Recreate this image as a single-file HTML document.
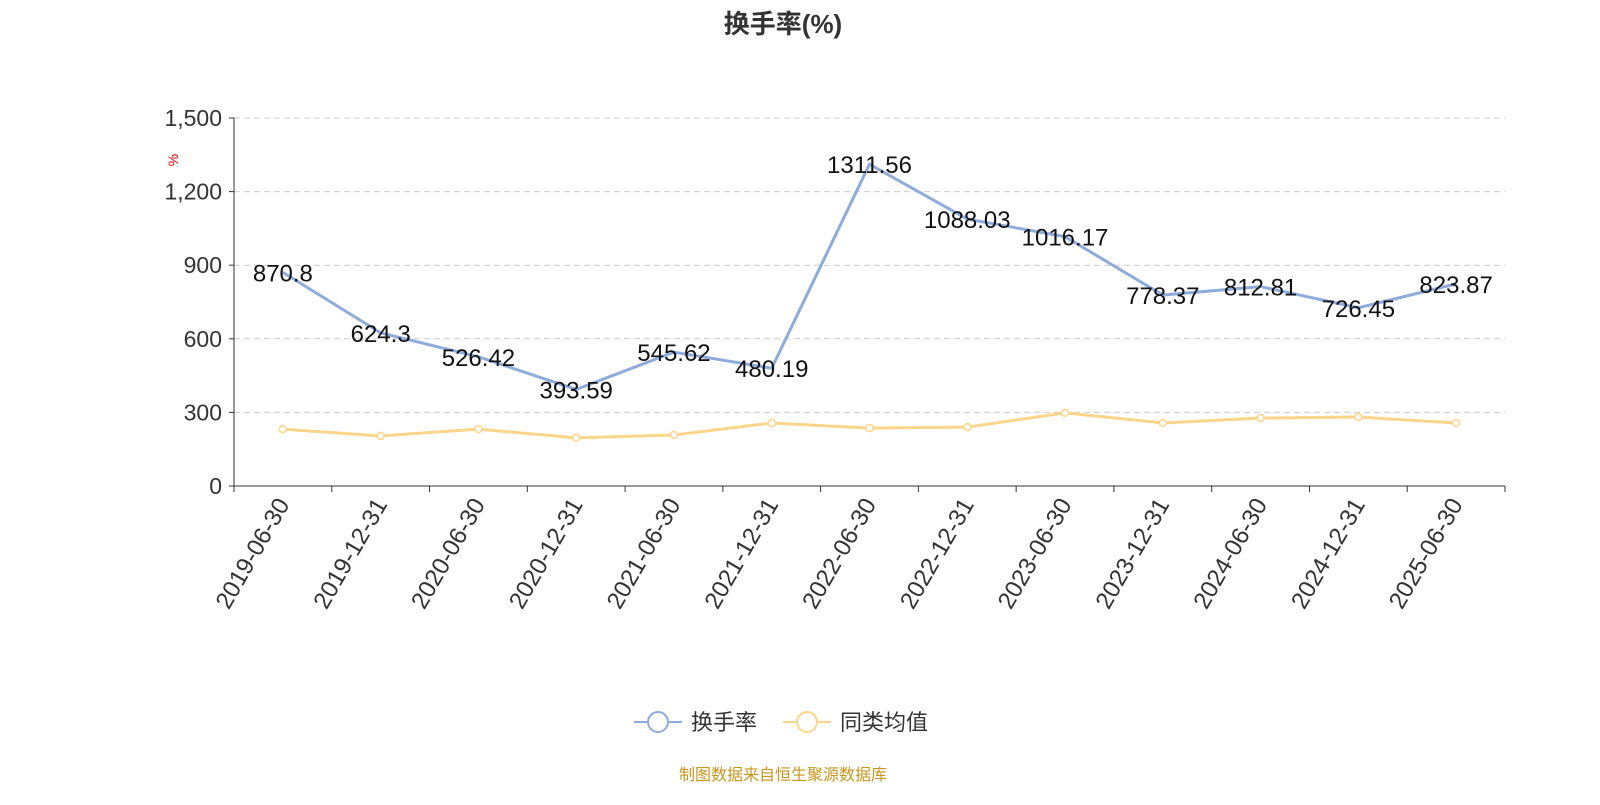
<!DOCTYPE html>
<html><head><meta charset="utf-8"><style>
body{margin:0;background:#fff;}
svg text{font-family:"Liberation Sans","Noto Sans CJK SC",sans-serif;}
</style></head><body>
<svg id="chart" width="1600" height="800">
<text x="783" y="33" text-anchor="middle" font-size="26" font-weight="bold" fill="#333">换手率(%)</text>
<text x="178" y="160" font-size="14" fill="#e00" transform="rotate(-90 178 160)" text-anchor="middle">%</text>
<g id="grid"></g><g id="axes"></g><g id="series"></g>
<g>
<g><line x1="634" y1="722" x2="682" y2="722" stroke="#8eacdb" stroke-width="2"/><circle cx="658" cy="722" r="10" fill="#fff" stroke="#8eacdb" stroke-width="2"/><text x="691" y="730" font-size="22" fill="#333">换手率</text></g>
<g><line x1="783" y1="722" x2="831" y2="722" stroke="#fdd58a" stroke-width="2"/><circle cx="807" cy="722" r="10" fill="#fff" stroke="#fdd58a" stroke-width="2"/><text x="840" y="730" font-size="22" fill="#333">同类均值</text></g>
</g>
<text x="783" y="780" text-anchor="middle" font-size="16" fill="#c8961e">制图数据来自恒生聚源数据库</text>
</svg>
<script>
const categories=["2019-06-30","2019-12-31","2020-06-30","2020-12-31","2021-06-30","2021-12-31","2022-06-30","2022-12-31","2023-06-30","2023-12-31","2024-06-30","2024-12-31","2025-06-30"];
const turnover=[870.8,624.3,526.42,393.59,545.62,480.19,1311.56,1088.03,1016.17,778.37,812.81,726.45,823.87];
const peerAvg=[232,204,232,196,208,257,236,240,298,257,277,281,257];
const yTicks=[0,300,600,900,1200,1500];
const yTickLabels=["0","300","600","900","1,200","1,500"];
const NS="http://www.w3.org/2000/svg";
const X0=234,X1=1505,Y0=486,Y1=118;
const band=(X1-X0)/categories.length;
const xs=i=>X0+band*(i+0.5);
const ys=v=>Y0-(v/1500)*(Y0-Y1);
function mk(tag,attrs,parent){const e=document.createElementNS(NS,tag);for(const k in attrs)e.setAttribute(k,attrs[k]);parent.appendChild(e);return e;}
const grid=document.getElementById('grid'),axes=document.getElementById('axes'),series=document.getElementById('series');
yTicks.forEach((t,i)=>{
 if(t>0){const g=mk('line',{x1:X0,x2:X1,y1:ys(t),y2:ys(t),stroke:'#ccc','stroke-dasharray':'6,4'},grid);
 
 }
 mk('line',{x1:X0-5,x2:X0,y1:ys(t),y2:ys(t),stroke:'#333'},axes);
 const tx=mk('text',{x:X0-12,y:ys(t)+8,'text-anchor':'end','font-size':23,fill:'#333'},axes);tx.textContent=yTickLabels[i];
 
 
});
mk('line',{x1:X0,x2:X0,y1:Y1,y2:Y0,stroke:'#333'},axes);
mk('line',{x1:X0,x2:X1,y1:Y0,y2:Y0,stroke:'#333'},axes);
for(let i=0;i<=categories.length;i++)mk('line',{x1:X0+band*i,x2:X0+band*i,y1:Y0,y2:Y0+6,stroke:'#333'},axes);
categories.forEach((c,i)=>{
 const x=xs(i),y=Y0+14;
 const t=mk('text',{x:x,y:y,'text-anchor':'end','font-size':24,fill:'#333',transform:`rotate(-60 ${x} ${y})`,dy:'0.35em'},axes);t.textContent=c;
 
 
});
function drawLine(vals,color,name,labels){
 const p=mk('polyline',{points:vals.map((v,i)=>xs(i)+','+ys(v)).join(' '),fill:'none',stroke:color,'stroke-width':3},series);
 
 
 vals.forEach((v,i)=>{
  const c=mk('circle',{cx:xs(i),cy:ys(v),r:labels?0:3.5,fill:'#fff',stroke:color,'stroke-width':1.5},series);
  
  
  if(labels){const t=mk('text',{x:xs(i),y:ys(v)+9,'text-anchor':'middle','font-size':24,fill:'#111'},series);t.textContent=String(v);
  
  }
 });
}
drawLine(peerAvg,'#fdd58a','peer-average',false);
drawLine(turnover,'#8eacdb','turnover',true);
</script>
</body></html>
